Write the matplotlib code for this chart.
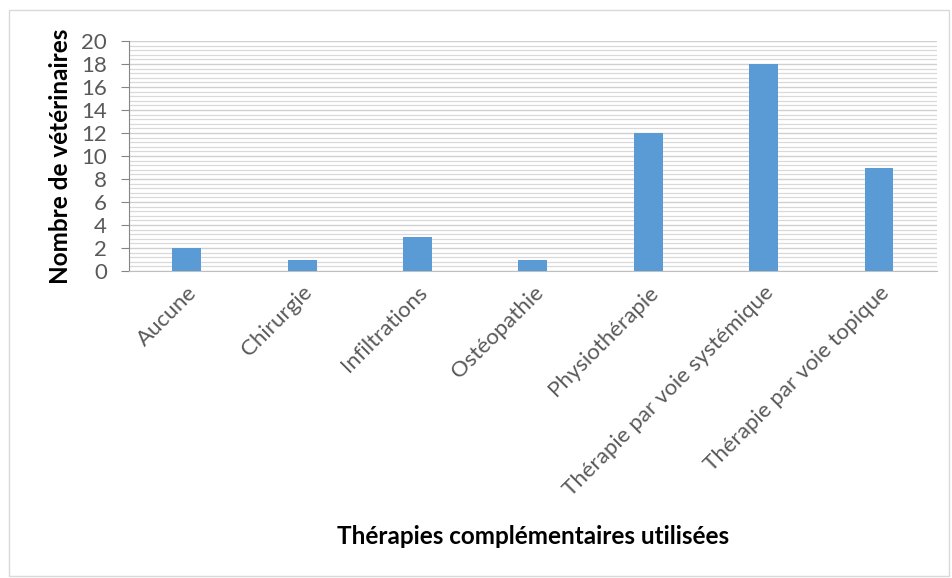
import matplotlib.pyplot as plt
from matplotlib.patches import Rectangle
from matplotlib.ticker import MultipleLocator

# Données
categories = ["Aucune", "Chirurgie", "Infiltrations", "Ostéopathie",
              "Physiothérapie", "Thérapie par voie systémique",
              "Thérapie par voie topique"]
nb_veterinaires = [2, 1, 3, 1, 12, 18, 9]

plt.rcParams['font.family'] = ['Lato', 'DejaVu Sans']

fig = plt.figure(figsize=(9.52, 5.78), dpi=100)
ax = fig.add_axes([0.1355, 0.531, 0.8485, 0.398])

# Cadre gris du graphique (style Excel)
fig.patches.append(Rectangle((0.009, 0.003), 0.988, 0.98, transform=fig.transFigure,
                             fill=False, edgecolor='#d9d9d9', linewidth=1))

x = range(len(categories))
ax.bar(x, nb_veterinaires, width=0.25, color='#5b9bd5', zorder=3)

ax.set_xlim(-0.5, len(categories) - 0.5)
ax.set_ylim(0, 20)
ax.yaxis.set_major_locator(MultipleLocator(2))
ax.yaxis.set_minor_locator(MultipleLocator(0.4))
ax.grid(axis='y', which='major', color='#d0d0d0', linewidth=1, zorder=0)
ax.grid(axis='y', which='minor', color='#d9d9d9', linewidth=0.9, zorder=0)
ax.set_axisbelow(True)

for s in ['top', 'right']:
    ax.spines[s].set_visible(False)
ax.spines['left'].set_color('#868686')
ax.spines['bottom'].set_color('#bfbfbf')

ax.tick_params(axis='y', which='major', length=6, color='#868686',
               labelsize=16, labelcolor='#595959', pad=10)
ax.tick_params(axis='y', which='minor', length=0)
ax.tick_params(axis='x', length=0, labelsize=16, labelcolor='#595959', pad=8)

ax.set_xticks(list(x))
ax.set_xticklabels(categories, rotation=45, ha='right', rotation_mode='anchor')

ax.set_ylabel("Nombre de vétérinaires", fontsize=17.5, fontweight='bold')
ax.yaxis.set_label_coords(-0.07, 0.5)
fig.text(0.56, 0.071, "Thérapies complémentaires utilisées", ha='center',
         va='center', fontsize=17.5, fontweight='bold')

fig.savefig("out.png", dpi=100)
